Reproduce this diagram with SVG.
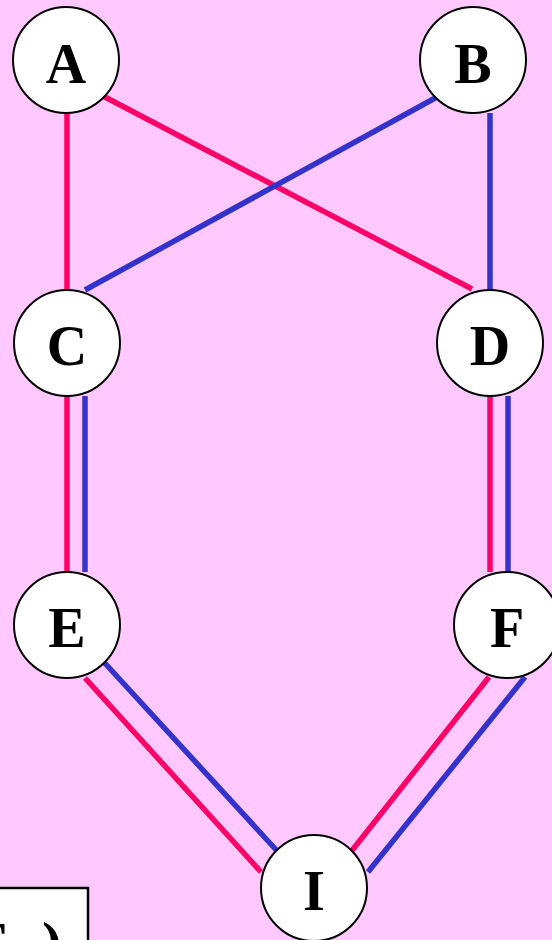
<svg xmlns="http://www.w3.org/2000/svg" width="552" height="940" viewBox="0 0 552 940">
<style>
.node circle{fill:#fff;stroke:#000;stroke-width:2}
.node text{font-family:"Liberation Serif","Times New Roman",serif;font-weight:bold;font-size:56px;text-anchor:middle;fill:#000}
.r{stroke:#FF0066;stroke-width:5.5;fill:none}
.b{stroke:#3333CC;stroke-width:5.5;fill:none}
</style>
<rect x="0" y="0" width="552" height="940" fill="#FFC8FF"/>
<g id="connectors">
<line class="r" x1="67" y1="113" x2="67" y2="290"/>
<line class="r" x1="103" y1="96" x2="472" y2="289"/>
<line class="b" x1="437" y1="97" x2="85" y2="290"/>
<line class="b" x1="490" y1="113" x2="490" y2="290"/>
<line class="r" x1="67" y1="396" x2="67" y2="572"/>
<line class="b" x1="85" y1="396" x2="85" y2="572"/>
<line class="r" x1="490" y1="396" x2="490" y2="572"/>
<line class="b" x1="508" y1="396" x2="508" y2="572"/>
<line class="b" x1="102" y1="660" x2="279" y2="853"/>
<line class="r" x1="85" y1="678" x2="261" y2="872"/>
<line class="r" x1="489" y1="677" x2="350" y2="853"/>
<line class="b" x1="525" y1="677" x2="368" y2="872"/>
</g>
<g id="A" class="node"><circle cx="66" cy="60" r="53"/><text x="66" y="83">A</text></g>
<g id="B" class="node"><circle cx="473" cy="60" r="53"/><text x="473" y="83">B</text></g>
<g id="C" class="node"><circle cx="67" cy="343" r="53"/><text x="67" y="365">C</text></g>
<g id="D" class="node"><circle cx="490" cy="343" r="53"/><text x="490" y="365">D</text></g>
<g id="E" class="node"><circle cx="67" cy="625" r="53"/><text x="67" y="647">E</text></g>
<g id="F" class="node"><circle cx="507" cy="625" r="53"/><text x="507" y="647">F</text></g>
<g id="I" class="node"><circle cx="314" cy="888" r="53"/><text x="314" y="910">I</text></g>
<g id="box">
<rect x="-10" y="888" width="98" height="80" fill="#fff" stroke="#000" stroke-width="2.5"/>
<text y="963" font-family="Liberation Serif, serif" font-weight="bold" font-size="60"><tspan x="-30">E</tspan><tspan x="42">)</tspan></text>
</g>
</svg>
